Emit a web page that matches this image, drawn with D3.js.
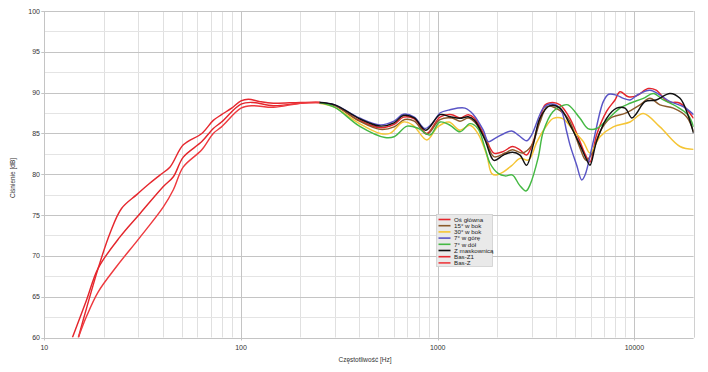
<!DOCTYPE html>
<html>
<head>
<meta charset="utf-8">
<script src="https://cdn.jsdelivr.net/npm/d3@7"></script>
<style>
  body { margin: 0; background: #fff; }
  svg { display: block; }
  text { font-family: "Liberation Sans", Arial, sans-serif; fill: #333; }
</style>
</head>
<body>
<svg id="chart" width="708" height="372"></svg>
<script>
  // ===== dane: [częstotliwość Hz, ciśnienie dB] =====

  var osGlowna = [
    [13.9, 60], [16.4, 64.6], [18.8, 68.5], [24.2, 72.3], [30.7, 75.2], [40.3, 78.5], [45.3, 79.7],
    [50.9, 82.1], [63.2, 84.0], [72.3, 85.6], [79.6, 86.4], [100, 88.6], [115, 88.8], [146, 88.4],
    [200, 88.7], [250, 88.8], [300, 88.4], [400, 86.6], [510, 85.7], [600, 86.1], [670, 87.0],
    [760, 86.8], [880, 85.0], [1027, 87.0], [1180, 87.3], [1298, 86.9], [1430, 87.3], [1540, 86.85],
    [1740, 84.6], [1930, 82.6], [2160, 82.8], [2400, 83.4], [2620, 83.0], [2830, 82.35], [3060, 84.0],
    [3310, 86.85], [3520, 88.5], [3840, 88.8], [4190, 88.5], [4700, 86.85], [5290, 84.0], [5650, 82.35],
    [5950, 81.5], [6420, 84.8], [7220, 87.7], [7970, 89.1], [8450, 90.1], [9310, 89.5], [10250, 89.6],
    [11750, 90.5], [12900, 90.3], [14760, 88.9], [17060, 88.7], [20000, 86.85]
  ];

  var bok15 = [
    [250, 88.8], [300, 88.4], [400, 86.5], [510, 85.5], [600, 85.8], [680, 86.7], [760, 86.5],
    [880, 84.9], [1027, 86.7], [1180, 86.9], [1298, 86.5], [1430, 86.9], [1540, 86.4], [1740, 84.4],
    [1930, 82.15], [2200, 82.6], [2400, 83.0], [2700, 82.6], [3000, 83.5], [3300, 86.3], [3600, 88.3],
    [3950, 88.15], [4440, 87.3], [4700, 86.45], [5290, 83.2], [5690, 81.7], [6100, 82.6], [6684, 85.2],
    [7515, 86.85], [8957, 87.45], [9700, 87.9], [10680, 88.5], [12000, 89.3], [13490, 88.5],
    [15780, 88.1], [18410, 87.05], [20000, 85.2]
  ];

  var bok30 = [
    [250, 88.7], [300, 88.2], [400, 86.2], [509, 85.0], [572, 85.0], [668, 86.4], [750, 86.0],
    [880, 84.2], [1000, 85.8], [1140, 86.4], [1298, 85.4], [1460, 86.0], [1600, 85.0], [1775, 82.35],
    [1882, 80.1], [1990, 79.9], [2160, 80.3], [2390, 81.1], [2620, 81.95], [2900, 81.75], [3200, 84.0],
    [3590, 86.0], [3870, 86.85], [4340, 86.8], [4880, 85.4], [5500, 84.0], [5950, 82.6], [6684, 84.6],
    [7810, 85.8], [9500, 86.4], [11100, 87.45], [13490, 85.8], [17060, 83.4], [20000, 83.05]
  ];

  var gora7 = [
    [250, 88.8], [300, 88.5], [400, 86.9], [509, 86.05], [600, 86.5], [668, 87.35], [760, 87.0],
    [860, 85.6], [950, 86.4], [1027, 87.5], [1155, 87.9], [1376, 88.1], [1520, 87.3], [1705, 85.4],
    [1810, 84.0], [1956, 84.4], [2377, 85.3], [2570, 84.8], [2833, 84.1], [3000, 84.8], [3443, 88.1],
    [3724, 88.6], [4186, 88.1], [4528, 85.2], [4705, 83.6], [5090, 81.1], [5400, 79.3], [5610, 79.9],
    [6180, 84.0], [6950, 88.9], [7400, 89.8], [8100, 89.7], [8800, 89.3], [9500, 89.1], [10500, 89.8],
    [12000, 90.3], [13500, 89.7], [15200, 88.9], [17700, 88.3], [20000, 87.3]
  ];

  var dol7 = [
    [250, 88.8], [300, 88.2], [400, 85.9], [540, 84.5], [600, 84.6], [700, 85.9], [800, 85.6],
    [913, 84.8], [1027, 86.4], [1155, 86.0], [1298, 85.2], [1460, 86.2], [1600, 85.6], [1740, 83.2],
    [1845, 81.35], [2030, 80.1], [2200, 79.8], [2400, 79.9], [2600, 78.7], [2812, 77.95], [2946, 78.7],
    [3240, 82.0], [3440, 85.2], [3850, 87.65], [4300, 88.4], [4600, 88.5], [5290, 86.85], [5800, 85.6],
    [6420, 85.6], [7220, 86.6], [8450, 88.1], [9500, 88.7], [11100, 89.3], [12490, 89.9], [14050, 89.1],
    [16400, 88.3], [18700, 87.3], [20000, 85.8]
  ];

  var maskownica = [
    [250, 88.8], [300, 88.5], [400, 86.8], [509, 85.9], [600, 86.3], [668, 87.2], [760, 86.9],
    [870, 85.4], [1027, 87.3], [1155, 87.05], [1298, 86.85], [1430, 87.05], [1540, 86.6], [1740, 84.2],
    [1930, 81.7], [2160, 82.35], [2400, 82.7], [2620, 82.35], [2830, 81.1], [3060, 83.6], [3310, 86.85],
    [3724, 88.4], [4186, 88.1], [4705, 86.05], [5290, 83.6], [5790, 81.5], [5950, 81.1], [6420, 84.0],
    [7220, 86.85], [8125, 88.1], [8957, 88.1], [9700, 86.9], [10250, 87.45], [11320, 88.9],
    [12900, 89.1], [15170, 89.9], [17060, 89.3], [18700, 87.3], [20000, 85.0]
  ];

  var basZ1 = [
    [14.9, 60], [16.4, 63.6], [18.8, 68.5], [21.6, 72.8], [24.7, 75.8], [29.5, 77.5], [34, 78.8],
    [38.7, 79.9], [43.6, 80.9], [50.9, 83.6], [63.2, 85.0], [72.3, 86.6], [79.6, 87.3], [89.6, 88.1],
    [100, 89.0], [109, 89.2], [125, 88.9], [146, 88.7], [200, 88.8], [250, 88.8]
  ];

  var basZ = [
    [14.9, 60], [16.4, 62.6], [18.8, 65.6], [23.3, 68.7], [30.7, 72.3], [40.3, 76.0], [45.3, 78.1],
    [50.9, 80.9], [63.2, 83.0], [72.3, 85.0], [79.6, 85.8], [100, 88.1], [115, 88.4], [146, 88.2],
    [200, 88.7], [250, 88.8]
  ];

  var seriesNames = ['Oś główna', '15° w bok', '30° w bok', '7° w górę', '7° w dół', 'Z maskownicą', 'Bas-Z1', 'Bas-Z'];
  var seriesData = [osGlowna, bok15, bok30, gora7, dol7, maskownica, basZ1, basZ];
  var seriesColors = ['#e4262c', '#8b5a2b', '#f5c535', '#5a55c6', '#45b944', '#111111', '#e6282f', '#ee3a3f'];

  var xTicks = [10, 100, 1000, 10000];
  var yTicks = [60, 65, 70, 75, 80, 85, 90, 95, 100];

  // ===== rysowanie =====

  var svg = d3.select('#chart');
  var plot = { left: 44.3, right: 693.6, top: 11, bottom: 337.5 };

  var x = d3.scaleLog().domain([10, 20000]).range([plot.left, plot.right]);
  var y = d3.scaleLinear().domain([60, 100]).range([plot.bottom, plot.top]);

  // siatka pomocnicza
  var minorX = [];
  [10, 100, 1000, 10000].forEach(function (dec) {
    for (var k = 2; k <= 9; k++) if (dec * k <= 20000) minorX.push(dec * k);
  });
  var minorY = d3.range(62.5, 100, 5);

  var grid = svg.append('g');
  grid.selectAll('line.mx').data(minorX).join('line')
    .attr('x1', function (d) { return Math.round(x(d)) + 0.5; })
    .attr('x2', function (d) { return Math.round(x(d)) + 0.5; })
    .attr('y1', plot.top).attr('y2', plot.bottom)
    .attr('stroke', '#e0e0e0').attr('stroke-width', 1);
  grid.selectAll('line.my').data(minorY).join('line')
    .attr('x1', plot.left).attr('x2', plot.right)
    .attr('y1', function (d) { return Math.round(y(d)) + 0.5; })
    .attr('y2', function (d) { return Math.round(y(d)) + 0.5; })
    .attr('stroke', '#e4e4e4').attr('stroke-width', 1);

  // siatka główna
  grid.selectAll('line.gx').data(xTicks).join('line')
    .attr('x1', function (d) { return Math.round(x(d)) + 0.5; })
    .attr('x2', function (d) { return Math.round(x(d)) + 0.5; })
    .attr('y1', plot.top).attr('y2', plot.bottom + 3)
    .attr('stroke', '#c4c4c4').attr('stroke-width', 1);
  grid.selectAll('line.gy').data(yTicks).join('line')
    .attr('x1', plot.left - 3).attr('x2', plot.right)
    .attr('y1', function (d) { return Math.round(y(d)) + 0.5; })
    .attr('y2', function (d) { return Math.round(y(d)) + 0.5; })
    .attr('stroke', '#c4c4c4').attr('stroke-width', 1);
  grid.append('line')
    .attr('x1', Math.round(plot.right) + 0.5).attr('x2', Math.round(plot.right) + 0.5)
    .attr('y1', plot.top).attr('y2', plot.bottom)
    .attr('stroke', '#d0d0d0');

  // opisy osi
  svg.append('g').selectAll('text').data(yTicks).join('text')
    .attr('x', 40).attr('y', function (d) { return y(d) + 2.5; })
    .attr('text-anchor', 'end').attr('font-size', 7)
    .text(function (d) { return d; });

  svg.append('g').selectAll('text').data(xTicks).join('text')
    .attr('x', function (d) { return x(d); }).attr('y', 349.5)
    .attr('text-anchor', 'middle').attr('font-size', 7)
    .text(function (d) { return d; });

  svg.append('text')
    .attr('x', 365).attr('y', 362)
    .attr('text-anchor', 'middle').attr('font-size', 6.5)
    .text('Częstotliwość [Hz]');

  svg.append('text')
    .attr('transform', 'translate(15,178) rotate(-90)')
    .attr('text-anchor', 'middle').attr('font-size', 6.5)
    .text('Ciśnienie [dB]');

  // krzywe
  svg.append('clipPath').attr('id', 'plotClip').append('rect')
    .attr('x', plot.left).attr('y', plot.top)
    .attr('width', plot.right - plot.left).attr('height', plot.bottom - plot.top);

  var line = d3.line()
    .x(function (d) { return x(d[0]); })
    .y(function (d) { return y(d[1]); })
    .curve(d3.curveCatmullRom.alpha(0.5));

  svg.append('g').attr('clip-path', 'url(#plotClip)')
    .selectAll('path').data(seriesData).join('path')
    .attr('d', line)
    .attr('fill', 'none')
    .attr('stroke', function (d, i) { return seriesColors[i]; })
    .attr('stroke-width', 1.45)
    .attr('stroke-linejoin', 'round');

  // legenda
  var legend = svg.append('g').attr('transform', 'translate(436.5,214.5)');
  legend.append('rect')
    .attr('width', 56).attr('height', 52)
    .attr('fill', '#e9e9e9').attr('stroke', '#cfcfcf').attr('stroke-width', 0.8);

  var item = legend.selectAll('g').data(seriesNames).join('g')
    .attr('transform', function (d, i) { return 'translate(0,' + (5 + i * 6.2) + ')'; });
  item.append('line')
    .attr('x1', 2).attr('x2', 14)
    .attr('stroke', function (d, i) { return seriesColors[i]; })
    .attr('stroke-width', 1.6);
  item.append('text')
    .attr('x', 17.5).attr('y', 2.2)
    .attr('font-size', 6.2).style('fill', '#222')
    .text(function (d) { return d; });
</script>
</body>
</html>
